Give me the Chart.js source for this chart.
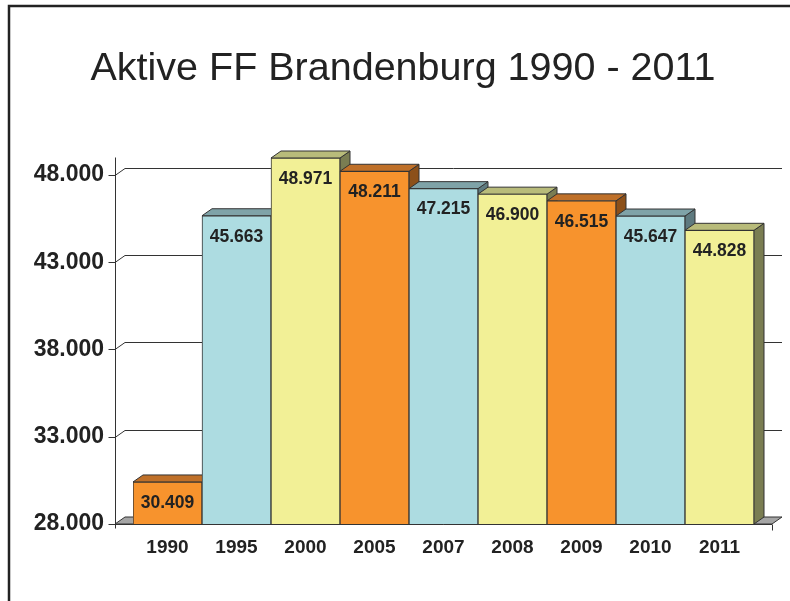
<!DOCTYPE html>
<html>
<head>
<meta charset="utf-8">
<script src="https://cdn.jsdelivr.net/npm/chart.js@4"></script>
<style>
  html, body { margin: 0; padding: 0; background: #ffffff; }
  #wrap { width: 790px; height: 601px; }
</style>
</head>
<body>
<div id="wrap"><canvas id="c" width="790" height="601"></canvas></div>
<script>
// ---- data ----
const categories = ['1990', '1995', '2000', '2005', '2007', '2008', '2009', '2010', '2011'];
const activeMembers = [30409, 45663, 48971, 48211, 47215, 46900, 46515, 45647, 44828];
const yTicks = [28000, 33000, 38000, 43000, 48000];
const yMin = 28000;
const yMax = 49000;
const titleText = 'Aktive FF Brandenburg 1990 - 2011';

// ---- styles ----
const frontColors = ['#F7932D', '#ADDCE1', '#F2F096'];
const topColors   = ['#BF7029', '#7FA3A8', '#B8BB7A'];
const sideColors  = ['#8C5019', '#5E7A7F', '#7A7D52'];
const edgeColor = '#333333';
const textColor = '#222222';
const FONT = '"Liberation Sans", Arial, Helvetica, sans-serif';
const DX = 10, DY = -7;

function fmt(v) {
  const th = Math.floor(v / 1000);
  const rest = String(Math.round(v % 1000)).padStart(3, '0');
  return th + '.' + rest;
}
function pick(arr, i) { return arr[i % arr.length]; }

const threeD = {
  id: 'threeD',
  beforeDatasetsDraw(chart) {
    const ctx = chart.ctx;
    const ys = chart.scales.y;
    const ca = chart.chartArea;
    const xL = ca.left - 18, xR = ca.right + 18;
    const y0 = ys.getPixelForValue(yMin);
    ctx.save();
    ctx.lineWidth = 1;
    ctx.strokeStyle = edgeColor;
    // floor
    ctx.beginPath();
    ctx.moveTo(xL, y0);
    ctx.lineTo(xR, y0);
    ctx.lineTo(xR + DX, y0 + DY);
    ctx.lineTo(xL + DX, y0 + DY);
    ctx.closePath();
    ctx.fillStyle = '#A5A5A5';
    ctx.fill();
    ctx.stroke();
    // back-wall gridlines
    yTicks.forEach(v => {
      if (v === yMin) return;
      const y = Math.round(ys.getPixelForValue(v)) + 0.5;
      ctx.beginPath();
      ctx.moveTo(xL, y);
      ctx.lineTo(xL + DX, y + DY);
      ctx.lineTo(xR + DX, y + DY);
      ctx.stroke();
    });
    // bar sides and tops
    const meta = chart.getDatasetMeta(0);
    meta.data.forEach((bar, i) => {
      const l = bar.x - bar.width / 2, r = bar.x + bar.width / 2;
      const t = bar.y, b = y0;
      ctx.beginPath();
      ctx.moveTo(r, t);
      ctx.lineTo(r + DX, t + DY);
      ctx.lineTo(r + DX, b + DY);
      ctx.lineTo(r, b);
      ctx.closePath();
      ctx.fillStyle = pick(sideColors, i);
      ctx.fill();
      ctx.stroke();
      ctx.beginPath();
      ctx.moveTo(l, t);
      ctx.lineTo(r, t);
      ctx.lineTo(r + DX, t + DY);
      ctx.lineTo(l + DX, t + DY);
      ctx.closePath();
      ctx.fillStyle = pick(topColors, i);
      ctx.fill();
      ctx.stroke();
    });
    ctx.restore();
  },
  afterDatasetsDraw(chart) {
    const ctx = chart.ctx;
    const ys = chart.scales.y;
    const ca = chart.chartArea;
    const xL = ca.left - 18, xR = ca.right + 18;
    const y0 = Math.round(ys.getPixelForValue(yMin)) + 0.5;
    ctx.save();
    ctx.strokeStyle = edgeColor;
    ctx.lineWidth = 1;
    // y axis
    const ax = Math.round(xL) + 0.5;
    ctx.beginPath();
    ctx.moveTo(ax, ys.getPixelForValue(yMax));
    ctx.lineTo(ax, y0 + 4);
    ctx.stroke();
    yTicks.forEach(v => {
      const y = Math.round(ys.getPixelForValue(v)) + 0.5;
      ctx.beginPath();
      ctx.moveTo(ax - 7, y);
      ctx.lineTo(ax, y);
      ctx.stroke();
    });
    // x axis
    ctx.beginPath();
    ctx.moveTo(ax, y0);
    ctx.lineTo(xR, y0);
    ctx.moveTo(Math.round(xR) + 0.5, y0);
    ctx.lineTo(Math.round(xR) + 0.5, y0 + 6);
    ctx.stroke();
    // value labels
    ctx.fillStyle = textColor;
    ctx.font = 'bold 17.5px ' + FONT;
    ctx.textAlign = 'center';
    ctx.textBaseline = 'middle';
    const meta = chart.getDatasetMeta(0);
    meta.data.forEach((bar, i) => {
      ctx.fillText(fmt(activeMembers[i]), bar.x, bar.y + 21);
    });
    ctx.restore();
  },
  afterDraw(chart) {
    const ctx = chart.ctx;
    ctx.save();
    // title
    ctx.fillStyle = textColor;
    ctx.font = '39.5px ' + FONT;
    ctx.textAlign = 'center';
    ctx.textBaseline = 'alphabetic';
    ctx.fillText(titleText, 403, 80);
    // frame
    ctx.strokeStyle = '#222222';
    ctx.lineWidth = 2.5;
    ctx.beginPath();
    ctx.moveTo(9, 601);
    ctx.lineTo(9, 6);
    ctx.lineTo(790, 6);
    ctx.stroke();
    ctx.restore();
  }
};

new Chart(document.getElementById('c'), {
  type: 'bar',
  data: {
    labels: categories,
    datasets: [{
      data: activeMembers,
      backgroundColor: activeMembers.map((_, i) => pick(frontColors, i)),
      borderColor: edgeColor,
      borderWidth: 1,
      borderSkipped: 'start',
      barPercentage: 1,
      categoryPercentage: 1
    }]
  },
  options: {
    responsive: false,
    animation: false,
    events: [],
    layout: { padding: { left: 20, right: 36, top: 157.5, bottom: 0 } },
    plugins: {
      legend: { display: false },
      tooltip: { enabled: false },
      title: { display: false }
    },
    scales: {
      x: {
        grid: { display: false, drawTicks: false },
        border: { display: false },
        ticks: {
          color: textColor,
          font: { family: FONT, size: 19, weight: 'bold' },
          padding: 12,
          maxRotation: 0,
          autoSkip: false
        },
        afterFit(s) { s.height = 77; }
      },
      y: {
        min: yMin,
        max: yMax,
        grid: { display: false, drawTicks: false },
        border: { display: false },
        afterBuildTicks(s) { s.ticks = yTicks.map(v => ({ value: v })); },
        ticks: {
          color: textColor,
          font: { family: FONT, size: 23, weight: 'bold' },
          padding: 29,
          callback: v => fmt(v)
        },
        afterFit(s) { s.width = 113; }
      }
    }
  },
  plugins: [threeD]
});
</script>
</body>
</html>
